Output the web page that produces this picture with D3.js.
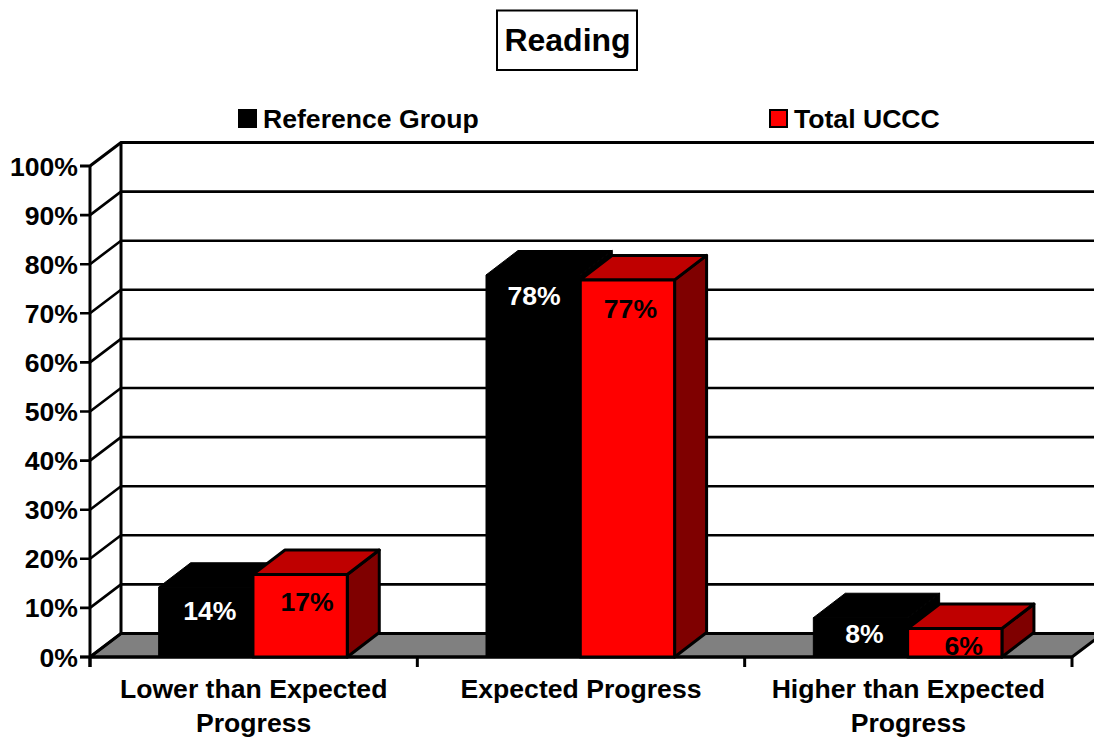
<!DOCTYPE html>
<html>
<head>
<meta charset="utf-8">
<script src="https://cdn.jsdelivr.net/npm/d3@7/dist/d3.min.js"></script>
<style>
html,body{margin:0;padding:0;background:#fff}
svg{display:block}
text{font-family:"Liberation Sans",Arial,sans-serif;font-weight:bold;fill:#000}
</style>
</head>
<body>
<svg id="c" width="1094" height="737"></svg>
<script>
const titleText = "Reading";
const categories = [["Lower than Expected","Progress"],["Expected Progress"],["Higher than Expected","Progress"]];
const seriesNames = ["Reference Group","Total UCCC"];
const referenceGroup = [14.2, 77.8, 8];
const totalUCCC = [16.8, 76.8, 5.8];
const referenceLabels = ["14%","78%","8%"];
const totalLabels = ["17%","77%","6%"];
const yTicks = [0,10,20,30,40,50,60,70,80,90,100];

// layout
const W=1094,H=737;
const x0=90,x1=1072,yBase=657,yTop=166,dx=31,dy=23.5,barDx=32,barDy=24.5;
const svg=d3.select("#c");
const y=d3.scaleLinear().domain([0,100]).range([yBase,yTop]);
const x=d3.scaleBand().domain(d3.range(categories.length)).range([x0,x1]).paddingInner(0).paddingOuter(0);
const inner=d3.scaleBand().domain([0,1]).range([x.bandwidth()/2-95,x.bandwidth()/2+93.6]);
const line=d3.line();
const fs=26.6;

// floor
svg.append("path").attr("d",line([[x0,yBase],[x0+dx,yBase-dy],[x1+dx,yBase-dy],[x1,yBase]])+"Z")
  .attr("fill","#808080").attr("stroke","#000").attr("stroke-width",3).attr("stroke-linejoin","round");

// walls + grid
const g=svg.append("g").attr("fill","none").attr("stroke","#000");
g.selectAll("path.grid").data(yTicks).join("path").attr("class","grid")
  .attr("stroke-width",d=>d===100?3.2:2.6)
  .attr("d",d=>line([[x0-10,y(d)],[x0,y(d)],[x0+dx,y(d)-dy],[W+5,y(d)-dy]]));
g.append("line").attr("x1",x0).attr("x2",x0).attr("y1",yTop).attr("y2",yBase+10).attr("stroke-width",3);
g.append("line").attr("x1",x0+dx).attr("x2",x0+dx).attr("y1",yTop-dy).attr("y2",yBase-dy).attr("stroke-width",3);
// bottom axis
g.append("line").attr("x1",x0-10).attr("x2",x1).attr("y1",yBase).attr("y2",yBase).attr("stroke-width",3);
g.selectAll("line.xt").data(d3.range(categories.length+1)).join("line").attr("class","xt")
  .attr("x1",i=>x0+i*x.step()).attr("x2",i=>x0+i*x.step()).attr("y1",yBase).attr("y2",yBase+10).attr("stroke-width",3);

// y labels
svg.selectAll("text.yl").data(yTicks).join("text").attr("class","yl")
  .attr("x",x0-12).attr("y",d=>y(d)+9.5).attr("text-anchor","end").attr("font-size",fs).text(d=>d+"%");

// bars
function bar(values,s,cols){
  const gg=svg.append("g").attr("stroke","#000").attr("stroke-width",s===0?1:3).attr("stroke-linejoin","round");
  values.forEach((v,i)=>{
    const l=x(i)+inner(s),r=l+inner.bandwidth(),t=y(v),b=yBase;
    gg.append("path").attr("fill",cols[2]).attr("d",line([[r,t],[r+barDx,t-barDy],[r+barDx,b-barDy],[r,b]])+"Z");
    gg.append("path").attr("fill",cols[1]).attr("d",line([[l,t],[l+barDx,t-barDy],[r+barDx,t-barDy],[r,t]])+"Z");
    gg.append("path").attr("fill",cols[0]).attr("d",line([[l,t],[r,t],[r,b],[l,b]])+"Z");
  });
}
bar(referenceGroup,0,["#000","#000","#000"]);
bar(totalUCCC,1,["#ff0000","#bf0000","#7f0000"]);

// data labels (nudges relative to bar top)
const refNudge=[[4,33],[1,30],[4,25]];
const totNudge=[[7,36],[3,38],[9,26]];
referenceLabels.forEach((t,i)=>{
  svg.append("text").attr("x",x(i)+inner(0)+inner.bandwidth()/2+refNudge[i][0]).attr("y",y(referenceGroup[i])+refNudge[i][1])
   .attr("text-anchor","middle").attr("font-size",fs).style("fill","#fff").text(t);
});
totalLabels.forEach((t,i)=>{
  svg.append("text").attr("x",x(i)+inner(1)+inner.bandwidth()/2+totNudge[i][0]).attr("y",y(totalUCCC[i])+totNudge[i][1])
   .attr("text-anchor","middle").attr("font-size",fs).text(t);
});

// category labels
categories.forEach((lines,i)=>{
  lines.forEach((t,j)=>{
    svg.append("text").attr("x",x(i)+x.bandwidth()/2).attr("y",698+j*34)
      .attr("text-anchor","middle").attr("font-size",fs).text(t);
  });
});

// legend
const legendX=[239,770],legendCol=["#000","#ff0000"];
seriesNames.forEach((n,i)=>{
  svg.append("rect").attr("x",legendX[i]).attr("y",110).attr("width",17).attr("height",17)
    .attr("fill",legendCol[i]).attr("stroke","#000").attr("stroke-width",2);
  svg.append("text").attr("x",legendX[i]+24).attr("y",128).attr("font-size",fs).text(n);
});

// title
svg.append("rect").attr("x",497).attr("y",10.5).attr("width",140).attr("height",59.5)
  .attr("fill","#fff").attr("stroke","#000").attr("stroke-width",2);
svg.append("text").attr("x",567.5).attr("y",51).attr("text-anchor","middle").attr("font-size",32).text(titleText);
</script>
</body>
</html>
